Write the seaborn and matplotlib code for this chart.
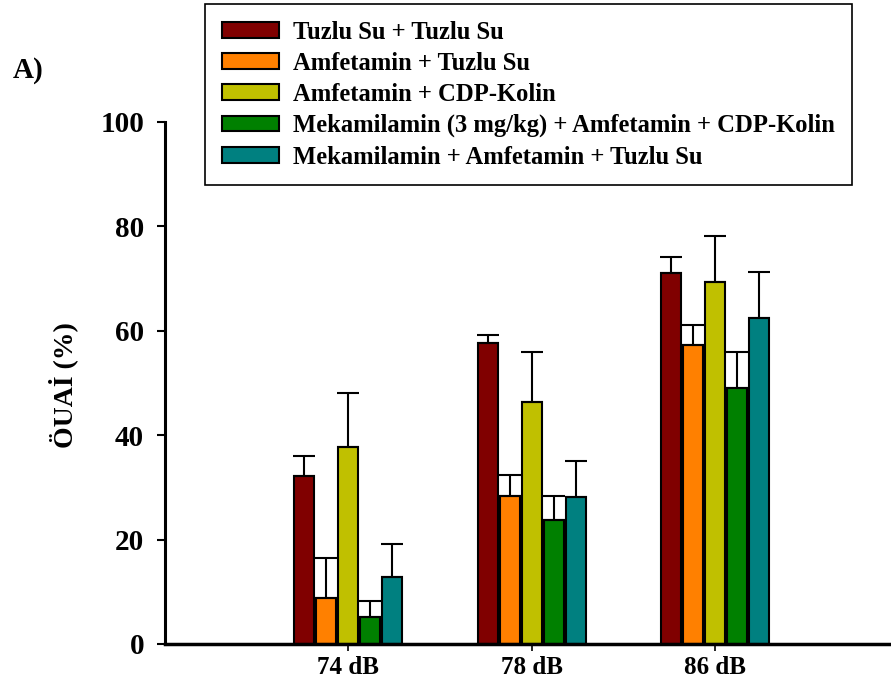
import matplotlib
matplotlib.use("Agg")
import matplotlib.pyplot as plt
import seaborn as sns
import pandas as pd
import numpy as np

categories = ["74 dB", "78 dB", "86 dB"]
groups = [
    "Tuzlu Su + Tuzlu Su",
    "Amfetamin + Tuzlu Su",
    "Amfetamin + CDP-Kolin",
    "Mekamilamin (3 mg/kg) + Amfetamin + CDP-Kolin",
    "Mekamilamin + Amfetamin + Tuzlu Su",
]
means_saline = [32.1, 57.7, 71.0]
means_amph_saline = [8.9, 28.3, 57.2]
means_amph_cdp = [37.7, 46.3, 69.3]
means_mec_amph_cdp = [5.1, 23.7, 49.0]
means_mec_amph_saline = [12.8, 28.1, 62.4]

sem_saline = [3.9, 1.5, 3.1]
sem_amph_saline = [7.5, 4.0, 3.9]
sem_amph_cdp = [10.3, 9.6, 8.8]
sem_mec_amph_cdp = [3.2, 4.6, 6.9]
sem_mec_amph_saline = [6.3, 6.9, 8.8]

colors = ["#800000", "#FF8000", "#C0C000", "#008000", "#008080"]

all_means = [means_saline, means_amph_saline, means_amph_cdp, means_mec_amph_cdp, means_mec_amph_saline]
all_sems = [sem_saline, sem_amph_saline, sem_amph_cdp, sem_mec_amph_cdp, sem_mec_amph_saline]

rows = []
for g, m in zip(groups, all_means):
    for c, v in zip(categories, m):
        rows.append({"cat": c, "group": g, "val": v})
df = pd.DataFrame(rows)

sns.set_style("ticks")
plt.rcParams["font.family"] = ["Liberation Serif", "DejaVu Serif"]
plt.rcParams["font.weight"] = "bold"
for k in ["text.color", "axes.labelcolor", "xtick.color", "ytick.color", "axes.edgecolor"]:
    plt.rcParams[k] = "black"

fig = plt.figure(figsize=(8.91, 6.83), dpi=100)
ax = fig.add_axes([165/891, 1 - 644/683, 1 - 165/891, (644 - 122)/683])

sns.barplot(data=df, x="cat", y="val", hue="group", order=categories, hue_order=groups,
            palette=colors, width=0.6, gap=0.1, edgecolor="black", linewidth=1.5,
            errorbar=None, ax=ax, saturation=1)

for cont, sems in zip(ax.containers, all_sems):
    xs = [p.get_x() + p.get_width() / 2 for p in cont.patches]
    ys = [p.get_height() for p in cont.patches]
    ax.errorbar(xs, ys, yerr=[np.zeros(len(sems)), sems], fmt="none", ecolor="black",
                elinewidth=1.5, capsize=8, capthick=1.5, zorder=1)

handles, labels = ax.get_legend_handles_labels()
if ax.get_legend() is not None:
    ax.get_legend().remove()

ax.set_xlim(-1, 2.96)
ax.set_ylim(0, 100)
ax.set_yticks([0, 20, 40, 60, 80, 100])
ax.set_xlabel("")
ax.set_ylabel("ÖUAİ (%)", fontsize=20, fontweight="bold")
ax.yaxis.set_label_coords(-0.12, 0.496)
sns.despine(ax=ax)
ax.spines["left"].set_linewidth(2.2)
ax.spines["bottom"].set_linewidth(2.5)
ax.tick_params(axis="y", direction="out", length=6, width=1.5, labelsize=21, pad=9)
ax.tick_params(axis="x", direction="out", length=5, width=1.2, labelsize=18, pad=4)
for t in ax.get_xticklabels() + ax.get_yticklabels():
    t.set_fontweight("bold")

leg = fig.legend(handles, labels, loc="upper left", bbox_to_anchor=(205/891, 1 - 4/683),
                 frameon=True, fancybox=False, edgecolor="black", framealpha=1,
                 prop={"family": "Liberation Serif", "weight": "bold", "size": 17.7},
                 handlelength=2.35, handleheight=0.6, handletextpad=0.56,
                 labelspacing=0.33, borderpad=0.68, borderaxespad=0)
leg.get_frame().set_linewidth(1.2)

fig.text(13/891, 1 - 70/683, "A)", fontsize=21, fontweight="bold", va="center", ha="left")

fig.savefig("out.png", dpi=100)
